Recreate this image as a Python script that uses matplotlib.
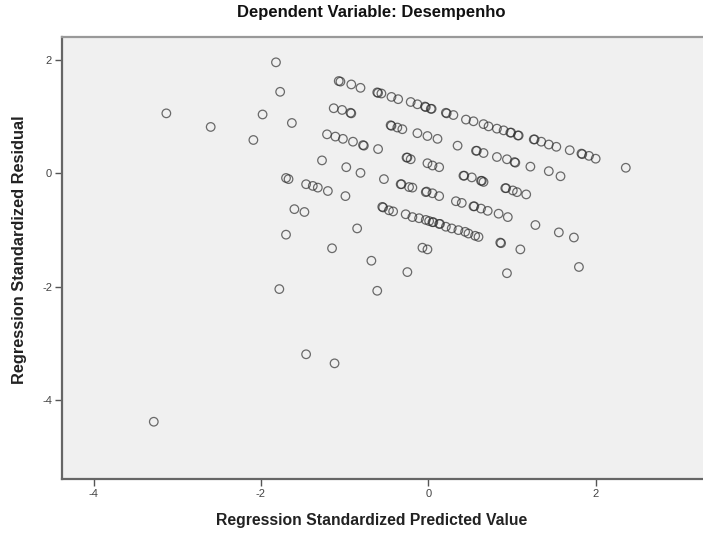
import matplotlib
matplotlib.use('Agg')
import matplotlib.pyplot as plt

# standardized predicted value (x) and standardized residual (y)
pred_vals = [
    # scattered, left side
    -1.82, -1.77, -3.13, -2.60, -1.98, -1.63, -2.09, -1.27, -0.98, -0.81,
    -1.70, -1.67, -1.46, -1.38, -1.32, -1.20, -0.99, -1.60, -1.48, -1.70,
    -0.85, -1.15, -0.68, -0.25, -0.61, -1.78, -1.46, -1.12, -3.28,
    # band A
    -1.07, -1.05, -0.92, -0.81, -0.61, -0.60, -0.56, -0.44, -0.36, -0.21,
    -0.13, -0.04, -0.03, 0.03, 0.04, 0.21, 0.22, 0.30, 0.45, 0.54, 0.66,
    0.72, 0.82, 0.90, 0.98, 0.99, 1.07, 1.08, 1.26, 1.27, 1.35, 1.44, 1.53,
    1.69, 1.83, 1.84, 1.92, 2.00, 2.36,
    # band B
    -1.13, -1.03, -0.93, -0.92, -0.45, -0.44, -0.37, -0.31, -0.13, -0.01,
    0.11, 0.35, 0.57, 0.58, 0.66, 0.82, 0.94, 1.03, 1.04, 1.22, 1.44, 1.58,
    # band C
    -1.21, -1.11, -1.02, -0.90, -0.78, -0.77, -0.60, -0.26, -0.25, -0.21,
    -0.01, 0.05, 0.13, 0.42, 0.43, 0.52, 0.63, 0.64, 0.66, 0.92, 0.93, 1.01,
    1.06, 1.17,
    # band D
    -0.53, -0.33, -0.32, -0.23, -0.19, -0.03, -0.02, 0.05, 0.13, 0.33, 0.40,
    0.54, 0.55, 0.63, 0.71, 0.84, 0.95, 1.28, 1.56, 1.74,
    # band E
    -0.55, -0.54, -0.47, -0.42, -0.27, -0.19, -0.11, -0.03, 0.01, 0.05, 0.06,
    0.13, 0.14, 0.21, 0.28, 0.36, 0.44, 0.48, 0.56, 0.60, 0.86, 0.87, 1.10,
    1.80,
    # band F
    -0.07, -0.01, 0.94,
]
resid_vals = [
    1.96, 1.44, 1.06, 0.82, 1.04, 0.89, 0.59, 0.23, 0.11, 0.01,
    -0.08, -0.10, -0.19, -0.22, -0.25, -0.31, -0.40, -0.63, -0.68, -1.08,
    -0.97, -1.32, -1.54, -1.74, -2.07, -2.04, -3.19, -3.35, -4.38,
    1.63, 1.62, 1.57, 1.51, 1.43, 1.42, 1.41, 1.35, 1.31, 1.26,
    1.22, 1.18, 1.17, 1.14, 1.14, 1.07, 1.06, 1.03, 0.95, 0.92, 0.87,
    0.83, 0.79, 0.76, 0.72, 0.72, 0.67, 0.67, 0.60, 0.60, 0.56, 0.51, 0.47,
    0.41, 0.35, 0.34, 0.31, 0.26, 0.10,
    1.15, 1.12, 1.07, 1.06, 0.85, 0.84, 0.81, 0.78, 0.71, 0.66,
    0.61, 0.49, 0.40, 0.40, 0.36, 0.29, 0.25, 0.20, 0.19, 0.12, 0.04, -0.05,
    0.69, 0.65, 0.61, 0.56, 0.50, 0.49, 0.43, 0.28, 0.28, 0.25,
    0.18, 0.14, 0.11, -0.04, -0.04, -0.07, -0.13, -0.13, -0.15, -0.26, -0.26, -0.30,
    -0.33, -0.37,
    -0.10, -0.19, -0.19, -0.24, -0.25, -0.33, -0.32, -0.35, -0.40, -0.49, -0.52,
    -0.58, -0.58, -0.62, -0.66, -0.71, -0.77, -0.91, -1.04, -1.13,
    -0.59, -0.60, -0.65, -0.67, -0.72, -0.77, -0.79, -0.82, -0.84, -0.86, -0.86,
    -0.89, -0.89, -0.94, -0.97, -1.00, -1.03, -1.06, -1.10, -1.12, -1.22, -1.23,
    -1.34, -1.65,
    -1.31, -1.34, -1.76,
]

title = 'Dependent Variable: Desempenho'
x_label = 'Regression Standardized Predicted Value'
y_label = 'Regression Standardized Residual'
x_ticks = [-4, -2, 0, 2]
y_ticks = [2, 0, -2, -4]

plt.rcParams['font.family'] = ['Liberation Sans', 'DejaVu Sans']
plt.rcParams['axes.unicode_minus'] = False

fig = plt.figure(figsize=(7.03, 5.34), dpi=100)
ax = fig.add_axes([0.0878, 0.103, 0.95, 0.827])
ax.set_facecolor('#f0f0f0')

ax.scatter(pred_vals, resid_vals, s=38, facecolors='none',
           edgecolors='#303030', linewidths=0.9, alpha=0.7)

ax.set_xlim(-4.38, 3.6)
ax.set_ylim(-5.39, 2.40)
ax.set_xticks(x_ticks)
ax.set_yticks(y_ticks)
ax.tick_params(direction='out', length=5, width=1, colors='#555555',
               labelsize=8, labelcolor='#444444', pad=2)

for side in ['left', 'bottom']:
    ax.spines[side].set_color('#666666')
    ax.spines[side].set_linewidth(1.6)
ax.spines['top'].set_color('#999999')
ax.spines['top'].set_linewidth(1.6)
ax.spines['right'].set_visible(False)

fig.text(371 / 703, 1 - 13 / 534, title, ha='center', va='center',
         fontsize=12, fontweight='bold', color='#111111')
fig.text(372 / 703, 1 - 521 / 534, x_label, ha='center', va='center',
         fontsize=11.3, fontweight='bold', color='#222222')
fig.text(20 / 703, 1 - 250 / 534, y_label, ha='center', va='center',
         rotation=90, fontsize=11.8, fontweight='bold', color='#222222')

fig.savefig('out.png', dpi=100, facecolor='white')
